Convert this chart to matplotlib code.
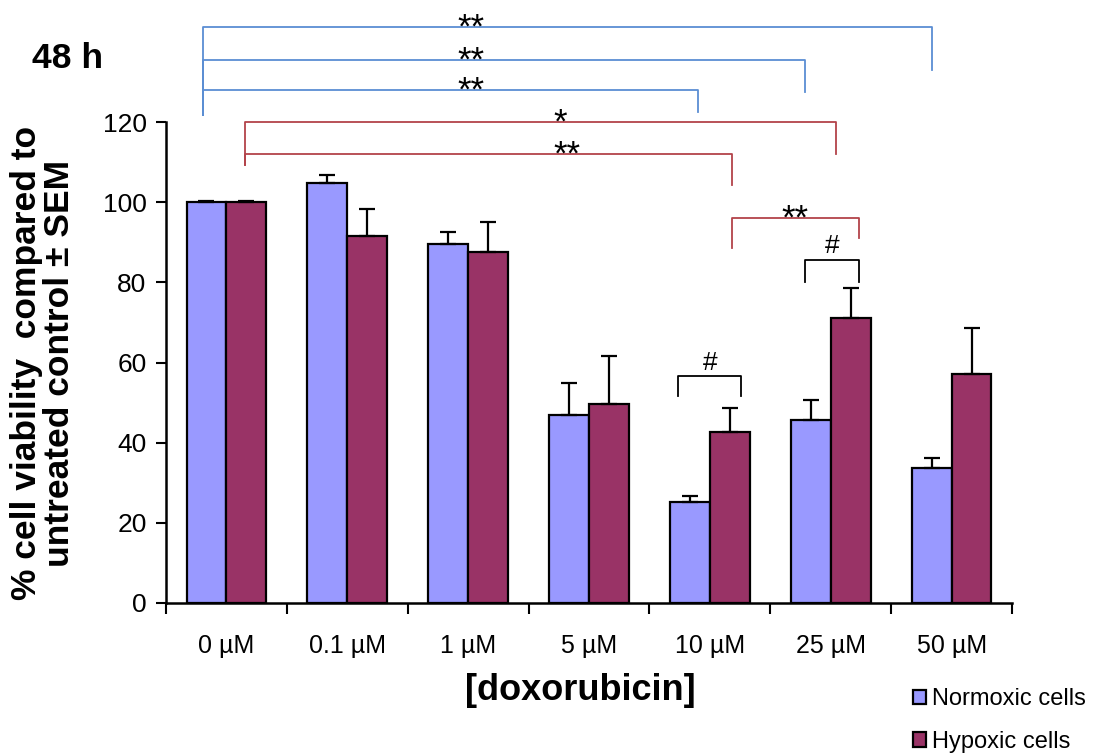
import numpy as np
import matplotlib.pyplot as plt

plt.rcParams['font.family'] = ['Liberation Sans', 'DejaVu Sans']

# doxorubicin doses and viability (% of untreated control), upper SEM
doses = ['0 µM', '0.1 µM', '1 µM', '5 µM', '10 µM', '25 µM', '50 µM']
normoxic = [100.0, 104.7, 89.5, 47.0, 25.1, 45.6, 33.6]
normoxic_sem = [0.3, 2.0, 3.0, 8.0, 1.5, 5.0, 2.6]
hypoxic = [100.0, 91.6, 87.5, 49.6, 42.7, 71.1, 57.1]
hypoxic_sem = [0.3, 6.7, 7.5, 12.0, 6.0, 7.6, 11.5]

# significance brackets:
# (x_left, x_right, y_top, y_left_end, y_right_end, label, label_x, colour)
blue = '#5B8ED3'
red = '#B3434A'
brackets = [
    (-0.19, 5.84, 143.7, 121.8, 133.0, '**', 2.02, blue),
    (-0.19, 4.79, 135.5, 121.8, 127.5, '**', 2.02, blue),
    (-0.19, 3.90, 128.0, 121.8, 122.5, '**', 2.02, blue),
    (0.15, 5.04, 120.0, 109.3, 112.0, '*', 2.76, red),
    (0.15, 4.18, 112.0, 109.3, 104.3, '**', 2.82, red),
    (4.18, 5.23, 96.0, 88.6, 91.0, '**', 4.70, red),
    (4.79, 5.23, 85.6, 80.0, 80.0, '#', 5.01, 'black'),
    (3.74, 4.26, 56.6, 51.6, 51.6, '#', 4.00, 'black'),
]

fig = plt.figure(figsize=(11.03, 7.56), dpi=100)
ax = fig.add_axes([166 / 1103, 153 / 756, 846 / 1103, 481 / 756])

x = np.arange(len(doses))
w = 0.33
ax.bar(x - w / 2, normoxic, w, color='#9999FF', edgecolor='black', linewidth=1.6,
       label='Normoxic cells', zorder=2)
ax.bar(x + w / 2, hypoxic, w, color='#993366', edgecolor='black', linewidth=1.6,
       label='Hypoxic cells', zorder=2)
ax.errorbar(x - w / 2, normoxic, yerr=[np.zeros(len(x)), normoxic_sem], fmt='none',
            ecolor='black', elinewidth=1.6, capsize=6, capthick=1.6, zorder=3)
ax.errorbar(x + w / 2, hypoxic, yerr=[np.zeros(len(x)), hypoxic_sem], fmt='none',
            ecolor='black', elinewidth=1.6, capsize=6, capthick=1.6, zorder=3)

ax.set_xlim(-0.5, len(doses) - 0.5)
ax.set_ylim(0, 120)
ax.set_yticks(np.arange(0, 121, 20))
ax.set_xticks(x)
ax.set_xticklabels(doses, fontsize=18)
ax.set_xticks(np.arange(-0.5, len(doses)), minor=True)
ax.tick_params(axis='x', which='major', length=0, pad=22)
ax.tick_params(axis='x', which='minor', length=8, width=1.5, direction='out')
ax.tick_params(axis='y', labelsize=19, length=7, width=1.5, direction='out', pad=7)
for side in ['top', 'right']:
    ax.spines[side].set_visible(False)
for side in ['left', 'bottom']:
    ax.spines[side].set_linewidth(1.8)

fig.text(580 / 1103, 1 - 690 / 756, '[doxorubicin]', fontsize=26, fontweight='bold',
         ha='center', va='center')
fig.text(43 / 1103, 1 - 363 / 756, '% cell viability  compared to\nuntreated control ± SEM',
         fontsize=25.5, fontweight='bold', rotation=90, ha='center', va='center',
         multialignment='center', linespacing=1.0)

for x0, x1, yt, yl, yr, lab, lx, col in brackets:
    ax.plot([x0, x0, x1, x1], [yl, yt, yt, yr], color=col, lw=1.3,
            clip_on=False, zorder=1)
    if lab == '#':
        ax.text(lx, yt + 1.6, lab, ha='center', va='baseline', fontsize=19,
                clip_on=False)
    else:
        ax.text(lx, yt - 2.6, lab, ha='center', va='baseline', fontsize=25,
                clip_on=False)

fig.text(32 / 1103, 1 - 58 / 756, '48 h', fontsize=25.5, fontweight='bold', va='center')

fig.legend(loc='upper left', bbox_to_anchor=(913 / 1103, 1 - 688 / 756), frameon=False,
           fontsize=17, handlelength=0.55, handleheight=0.55, handletextpad=0.25,
           labelspacing=0.88, borderaxespad=0, borderpad=0)

fig.savefig('out.png', dpi=100)
